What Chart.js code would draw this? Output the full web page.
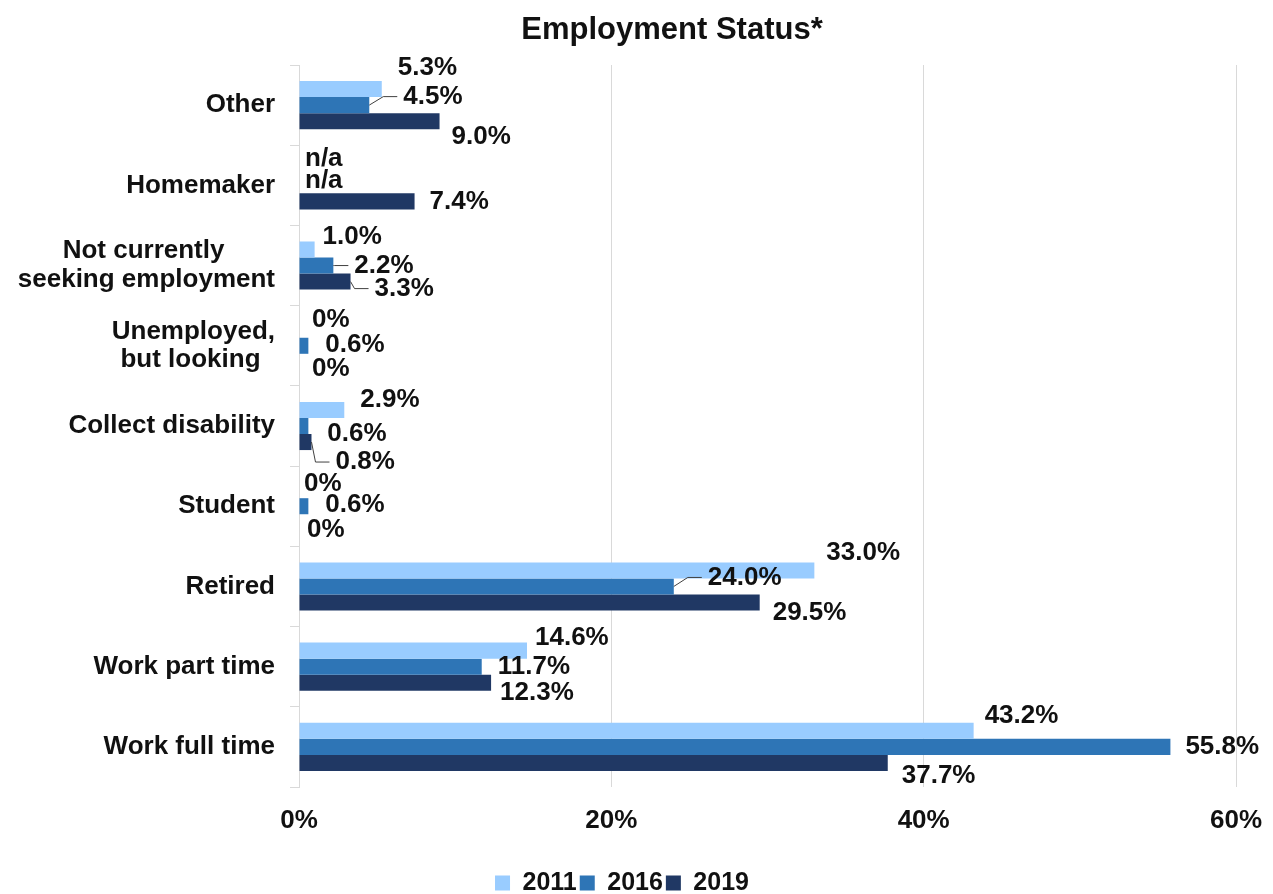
<!DOCTYPE html>
<html>
<head>
<meta charset="utf-8">
<title>Employment Status</title>
<script src="https://cdn.jsdelivr.net/npm/chart.js@4.4.1/dist/chart.umd.min.js"></script>
<style>
  html, body { margin: 0; padding: 0; background: #ffffff; }
  #wrap { width: 1273px; height: 894px; position: relative; }
</style>
</head>
<body>
<div id="wrap"><canvas id="chart"></canvas></div>
<script>
// ---- data ----
// two-line labels are padded with trailing spaces so the lines sit centred on each other
const categories = [
  'Other',
  'Homemaker',
  ['Not currently       ', 'seeking employment'],
  ['Unemployed,', 'but looking  '],
  'Collect disability',
  'Student',
  'Retired',
  'Work part time',
  'Work full time'
];
const seriesNames = ['2011', '2016', '2019'];
const values2011 = [5.3, null, 1.0, 0, 2.9, 0, 33.0, 14.6, 43.2];
const values2016 = [4.5, null, 2.2, 0.6, 0.6, 0.6, 24.0, 11.7, 55.8];
const values2019 = [9.0, 7.4, 3.3, 0, 0.8, 0, 29.5, 12.3, 37.7];
const xTickValues = [0, 20, 40, 60];

// ---- look ----
const FONT = '"Liberation Sans", Arial, Helvetica, sans-serif';
const TEXT = '#111111';
const GRID = '#D9D9D9';
const seriesColors = ['#99CCFF', '#2E75B6', '#203864'];

// value label nudges [dx, dy] in px from the bar end / bar centre
const labelNudge = [
  [[16, -21.5], [6, -10], [8, -13], [13, -10], [16, -10], [5, -6.5], [12, -18], [8, -13], [11, -15]],
  [[34, -8.5], [6, -4.7], [21, 0], [17, -1], [19, 8], [17, -1], [34, -9], [16, 0], [15, 0]],
  [[12, 15.5], [15, 0], [24, 7], [13, 7], [24, 20], [8, 8], [13, 10], [9, 10], [14, 13]]
];
// labels that get a leader line back to their bar ("series:category")
const leaderLines = new Set(['1:0', '1:2', '2:2', '2:4', '1:6']);

Chart.defaults.font.family = FONT;
Chart.defaults.color = TEXT;

function formatValue(v) {
  if (v === null || v === undefined) return 'n/a';
  if (v === 0) return '0%';
  return v.toFixed(1) + '%';
}

const valueLabels = {
  id: 'valueLabels',
  afterDatasetsDraw(chart) {
    const ctx = chart.ctx;
    const xs = chart.scales.x;
    ctx.save();
    ctx.font = 'bold 26px ' + FONT;
    ctx.fillStyle = TEXT;
    ctx.textAlign = 'left';
    ctx.textBaseline = 'middle';
    chart.data.datasets.forEach((ds, di) => {
      const meta = chart.getDatasetMeta(di);
      meta.data.forEach((bar, i) => {
        const v = ds.data[i];
        const endX = (v === null || v === undefined) ? xs.getPixelForValue(0) : bar.x;
        const [dx, dy] = labelNudge[di][i];
        const tx = endX + dx;
        const ty = bar.y + dy;
        if (leaderLines.has(di + ':' + i)) {
          const ex = tx - 6;
          const elbowX = Math.max(endX + 1, ex - 14);
          ctx.beginPath();
          ctx.strokeStyle = '#404040';
          ctx.lineWidth = 1;
          ctx.moveTo(endX, bar.y);
          ctx.lineTo(elbowX, ty);
          ctx.lineTo(ex, ty);
          ctx.stroke();
        }
        ctx.fillText(formatValue(v), tx, ty);
      });
    });
    ctx.restore();
  }
};

// nudge the title block so it sits over the plot
const titleShift = {
  id: 'titleShift',
  afterLayout(chart) {
    const t = chart.titleBlock;
    if (t) { t.left += 50; t.right += 50; }
  }
};

new Chart(document.getElementById('chart'), {
  type: 'bar',
  data: {
    labels: categories,
    datasets: [
      { label: seriesNames[0], data: values2011, backgroundColor: seriesColors[0] },
      { label: seriesNames[1], data: values2016, backgroundColor: seriesColors[1] },
      { label: seriesNames[2], data: values2019, backgroundColor: seriesColors[2] }
    ]
  },
  options: {
    indexAxis: 'y',
    responsive: true,
    maintainAspectRatio: false,
    animation: false,
    datasets: { bar: { categoryPercentage: 0.6, barPercentage: 1.0, borderWidth: 0 } },
    layout: { padding: { left: 8, right: 37, top: 0, bottom: -11.5 } },
    plugins: {
      title: {
        display: true,
        text: 'Employment Status*',
        color: TEXT,
        font: { size: 31, weight: 'bold', family: FONT, lineHeight: 1.2 },
        padding: { top: 12, bottom: 15.8 }
      },
      legend: {
        position: 'bottom',
        align: 'center',
        labels: {
          boxWidth: 15,
          boxHeight: 15,
          padding: 3,
          color: TEXT,
          font: { size: 25, weight: 'bold', family: FONT }
        }
      },
      tooltip: { enabled: false }
    },
    scales: {
      x: {
        min: 0,
        max: 60,
        afterBuildTicks: (s) => { s.ticks = xTickValues.map(v => ({ value: v })); },
        ticks: {
          callback: (v) => v + '%',
          color: TEXT,
          padding: 0,
          font: { size: 26, weight: 'bold', family: FONT }
        },
        grid: { color: GRID, lineWidth: 1, drawTicks: true, tickLength: 18, tickColor: 'rgba(0,0,0,0)' },
        border: { display: false },
        afterFit: (s) => { s.height = 80.5; }
      },
      y: {
        offset: true,
        grid: { offset: true, drawOnChartArea: false, drawTicks: true, tickLength: 9, color: GRID },
        border: { display: true, color: GRID, width: 1 },
        ticks: {
          color: TEXT,
          padding: 15,
          font: { size: 26, weight: 'bold', family: FONT, lineHeight: 1.1 }
        },
        afterFit: (s) => { s.width = 291; }
      }
    }
  },
  plugins: [valueLabels, titleShift]
});
</script>
</body>
</html>
